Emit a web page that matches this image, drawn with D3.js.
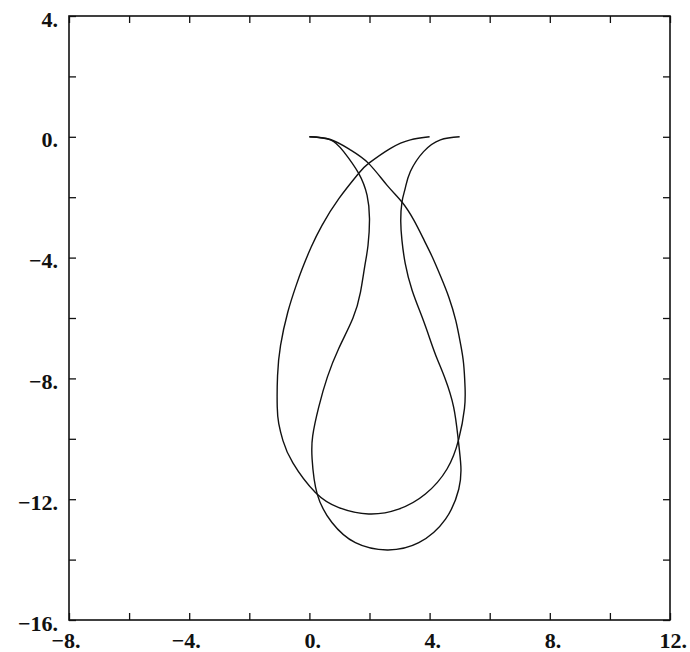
<!DOCTYPE html>
<html>
<head>
<meta charset="utf-8">
<script src="https://cdn.jsdelivr.net/npm/d3@7"></script>
<style>
  body { margin: 0; background: #fff; }
  text { font-family: "Liberation Serif", "DejaVu Serif", serif; font-weight: bold; font-size: 22px; fill: #111; }
</style>
</head>
<body>
<svg id="chart" width="690" height="652"></svg>
<script>
// Tick positions and labelled values for both axes
const xTicks = [-8, -6, -4, -2, 0, 2, 4, 6, 8, 10, 12];
const xLabels = [-8, -4, 0, 4, 8, 12];
const yTicks = [-16, -14, -12, -10, -8, -6, -4, -2, 0, 2, 4];
const yLabels = [-16, -12, -8, -4, 0, 4];

// Curve ending at (4, 0): leaves the origin, loops through the bottom and crosses itself
const loopAX = [0, 0.7, 1.36, 1.97, 2.58, 3.08, 3.48, 3.82, 4.09, 4.38, 4.64, 4.87, 5.03, 5.13, 5.18, 5.16, 4.97, 4.58, 3.86, 2.97, 1.97, 0.98, 0.2,
  -0.55, -0.88, -1.02, -1.07, -1.06, -0.96, -0.72, -0.44, -0.24, 0.06, 0.42, 0.98, 1.64, 1.97, 2.7, 3.36, 4.0];
const loopAY = [0, -0.09, -0.43, -0.88, -1.6, -2.16, -2.77, -3.43, -3.98, -4.65, -5.31, -6.08, -6.86, -7.5, -8.3, -9.0, -10.01, -11.0, -11.83, -12.33, -12.49, -12.28, -11.78,
  -10.8, -10.06, -9.5, -8.95, -7.91, -6.91, -5.81, -4.92, -4.37, -3.65, -2.93, -2.05, -1.21, -0.88, -0.38, -0.1, 0];

// Curve ending at (5, 0): the steeper branch from the origin around the deeper bottom
const loopBX = [0, 0.7, 1.14, 1.64, 1.92, 2.0, 1.95, 1.84, 1.70, 1.45, 0.98, 0.6, 0.31, 0.11, 0.09, 0.26, 0.75, 1.53, 2.59, 3.64,
  4.53, 4.97, 5.04, 4.95, 4.80, 4.52, 4.25, 4.03, 3.75, 3.42, 3.19, 3.08, 3.04, 3.08, 3.19, 3.36, 3.80, 4.36, 5.0];
const loopBY = [0, -0.1, -0.49, -1.21, -1.94, -2.71, -3.6, -4.3, -5.14, -6.0, -7.0, -7.95, -8.95, -9.90, -10.67, -11.83, -12.77, -13.44, -13.68, -13.44,
  -12.66, -11.67, -10.9, -10.0, -8.95, -8.02, -7.35, -6.75, -5.97, -5.09, -4.2, -3.43, -2.8, -2.16, -1.7, -1.15, -0.49, -0.1, 0];

const svg = d3.select("#chart");
const frame = { left: 69, right: 670, top: 16, bottom: 620 };
const tickLen = 7;

const x = d3.scaleLinear().domain([-8, 12]).range([frame.left, frame.right]);
const y = d3.scaleLinear().domain([-16, 4]).range([frame.bottom, frame.top]);

const fmt = d => (d < 0 ? "\u2212" : "") + Math.abs(d) + ".";
const labelled = (list) => d => list.includes(d) ? fmt(d) : "";

// Inward ticks on all four sides
const gBottom = svg.append("g").attr("transform", `translate(0,${frame.bottom})`)
  .call(d3.axisBottom(x).tickValues(xTicks).tickSizeInner(-tickLen).tickSizeOuter(0).tickFormat(labelled(xLabels)));
const gTop = svg.append("g").attr("transform", `translate(0,${frame.top})`)
  .call(d3.axisTop(x).tickValues(xTicks).tickSizeInner(-tickLen).tickSizeOuter(0).tickFormat(""));
const gLeft = svg.append("g").attr("transform", `translate(${frame.left},0)`)
  .call(d3.axisLeft(y).tickValues(yTicks).tickSizeInner(-tickLen).tickSizeOuter(0).tickFormat(labelled(yLabels)));
const gRight = svg.append("g").attr("transform", `translate(${frame.right},0)`)
  .call(d3.axisRight(y).tickValues(yTicks).tickSizeInner(-tickLen).tickSizeOuter(0).tickFormat(""));

[gBottom, gTop, gLeft, gRight].forEach(g => {
  g.attr("font-family", null).attr("font-size", null);
  g.selectAll(".domain").remove();
  g.selectAll(".tick line").attr("stroke", "#111").attr("stroke-width", 1.3);
});

// Bottom labels: digits centred on the tick, minus sign and period hanging outside
gBottom.selectAll(".tick text").each(function(d) {
  const t = d3.select(this);
  const s = t.text();
  if (!s) return;
  const probe = svg.append("text");
  const wMinus = d < 0 ? probe.text("\u2212").node().getComputedTextLength() : 0;
  const wDigits = probe.text(String(Math.abs(d))).node().getComputedTextLength();
  probe.remove();
  t.attr("text-anchor", "start").attr("dy", null)
    .attr("x", -wMinus - wDigits / 2).attr("y", 28);
});

// Left labels: right-aligned, baseline a little below the tick
gLeft.selectAll(".tick text")
  .attr("text-anchor", "end").attr("dy", null)
  .attr("x", -11).attr("y", 10);

// Frame
svg.append("rect")
  .attr("x", frame.left).attr("y", frame.top)
  .attr("width", frame.right - frame.left).attr("height", frame.bottom - frame.top)
  .attr("fill", "none").attr("stroke", "#111").attr("stroke-width", 1.6);

// Curves: natural cubic spline through the sampled points
const line = d3.line()
  .x(p => x(p[0])).y(p => y(p[1]))
  .curve(d3.curveNatural);

const series = [
  d3.zip(loopAX, loopAY),
  d3.zip(loopBX, loopBY)
];

svg.append("g").selectAll("path")
  .data(series)
  .join("path")
  .attr("d", line)
  .attr("fill", "none")
  .attr("stroke", "#111")
  .attr("stroke-width", 1.4)
  .attr("stroke-linejoin", "round");
</script>
</body>
</html>
